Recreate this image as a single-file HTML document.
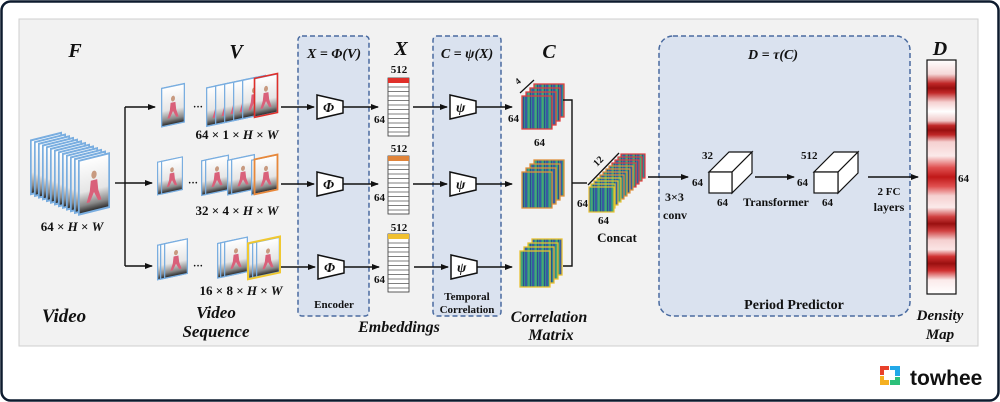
<!DOCTYPE html>
<html><head><meta charset="utf-8"><style>
html,body{margin:0;padding:0;background:#fff;}
svg{display:block;}
text{font-family:"Liberation Serif",serif;font-weight:bold;fill:#111;}
.it{font-style:italic;}
</style></head><body>
<svg width="1000" height="402" viewBox="0 0 1000 402" xmlns="http://www.w3.org/2000/svg">
<defs>
<linearGradient id="fg" x1="0" y1="0" x2="0" y2="1">
<stop offset="0" stop-color="#fff"/><stop offset="0.6" stop-color="#e6e6e6"/><stop offset="0.85" stop-color="#888"/><stop offset="1" stop-color="#222"/></linearGradient>
<symbol id="fr" viewBox="0 0 30 42" preserveAspectRatio="none">
<rect x="0.8" y="0.8" width="28.4" height="40.4" fill="url(#fg)" stroke="#7aaee0" stroke-width="1.6"/>
<ellipse cx="15" cy="14" rx="2.5" ry="3" fill="#c89a80"/>
<path d="M12 18 L18 18 L19 26 L22 34 L19 34 L15 27 L11 34 L8 34 L11 26Z" fill="#d9607a"/>
</symbol>
<pattern id="cm" width="7" height="40" patternUnits="userSpaceOnUse">
<rect width="7" height="40" fill="#2f8f8a"/><rect x="0" width="2" height="40" fill="#3a5aa0"/><rect x="3" width="1.5" height="40" fill="#4aa870"/><rect x="5" width="1" height="40" fill="#2c4f8f"/>
</pattern>
<marker id="ar" markerWidth="8" markerHeight="8" refX="7" refY="4" orient="auto" markerUnits="userSpaceOnUse"><path d="M0 1 L8 4 L0 7Z" fill="#111"/></marker>
<linearGradient id="dm" x1="0" y1="0" x2="0" y2="1">
<stop offset="0" stop-color="#fff"/>
<stop offset="0.06" stop-color="#f5d8d8"/><stop offset="0.10" stop-color="#c02828"/><stop offset="0.12" stop-color="#9a1010"/><stop offset="0.14" stop-color="#c02828"/><stop offset="0.18" stop-color="#f5d0d0"/>
<stop offset="0.22" stop-color="#fff"/>
<stop offset="0.26" stop-color="#f0c8c8"/><stop offset="0.28" stop-color="#c02828"/><stop offset="0.30" stop-color="#9a1010"/><stop offset="0.32" stop-color="#c02828"/><stop offset="0.35" stop-color="#f5d0d0"/>
<stop offset="0.41" stop-color="#fbeaea"/>
<stop offset="0.46" stop-color="#e05050"/><stop offset="0.50" stop-color="#c01818"/><stop offset="0.54" stop-color="#e05050"/><stop offset="0.58" stop-color="#f5d0d0"/>
<stop offset="0.63" stop-color="#fbeaea"/>
<stop offset="0.67" stop-color="#d04040"/><stop offset="0.70" stop-color="#9a1010"/><stop offset="0.73" stop-color="#d04040"/><stop offset="0.77" stop-color="#f5d0d0"/>
<stop offset="0.81" stop-color="#fbe5e5"/>
<stop offset="0.84" stop-color="#d03030"/><stop offset="0.87" stop-color="#9a1010"/><stop offset="0.90" stop-color="#d03030"/><stop offset="0.94" stop-color="#fbeaea"/>
<stop offset="1" stop-color="#fff"/></linearGradient>
</defs>

<rect x="1.5" y="1.5" width="997" height="399" rx="9" fill="#fff" stroke="#0d1b2e" stroke-width="2.5"/>
<rect x="19" y="19" width="959" height="327" fill="#f2f2f2" stroke="#cfcfcf" stroke-width="1"/>

<rect x="298" y="36" width="71" height="280" rx="4" fill="#dae2ef" stroke="#4a6ba0" stroke-width="1.5" stroke-dasharray="5,3"/>
<rect x="433" y="36" width="68" height="280" rx="4" fill="#dae2ef" stroke="#4a6ba0" stroke-width="1.5" stroke-dasharray="5,3"/>
<rect x="659" y="36" width="251" height="280" rx="14" fill="#dae2ef" stroke="#4a6ba0" stroke-width="1.5" stroke-dasharray="5,3"/>

<text x="75" y="57" font-size="20" class="it" text-anchor="middle">F</text>
<text x="236" y="58" font-size="20" class="it" text-anchor="middle">V</text>
<text x="334" y="58" font-size="14" class="it" text-anchor="middle">X = Φ(V)</text>
<text x="401" y="55" font-size="20" class="it" text-anchor="middle">X</text>
<text x="467" y="58" font-size="14" class="it" text-anchor="middle">C = ψ(X)</text>
<text x="549" y="58" font-size="20" class="it" text-anchor="middle">C</text>
<text x="773" y="59" font-size="14" class="it" text-anchor="middle">D = τ(C)</text>
<text x="940" y="55" font-size="20" class="it" text-anchor="middle">D</text>

<!-- video stack -->
<g transform="skewY(-14)">
<use href="#fr" x="30" y="147" width="32" height="56"/>
<use href="#fr" x="34" y="149.7" width="32" height="56"/>
<use href="#fr" x="38" y="152.4" width="32" height="56"/>
<use href="#fr" x="42" y="155.1" width="32" height="56"/>
<use href="#fr" x="46" y="157.8" width="32" height="56"/>
<use href="#fr" x="50" y="160.5" width="32" height="56"/>
<use href="#fr" x="54" y="163.2" width="32" height="56"/>
<use href="#fr" x="58" y="165.9" width="32" height="56"/>
<use href="#fr" x="62" y="168.6" width="32" height="56"/>
<use href="#fr" x="66" y="171.3" width="32" height="56"/>
<use href="#fr" x="70" y="174" width="32" height="56"/>
<use href="#fr" x="74" y="176.7" width="32" height="56"/>
<use href="#fr" x="78" y="179.4" width="32" height="56"/>
</g>
<text x="72" y="231" font-size="13" text-anchor="middle">64 × <tspan class="it">H</tspan> × <tspan class="it">W</tspan></text>
<text x="64" y="322" font-size="19" class="it" text-anchor="middle">Video</text>

<g stroke="#111" stroke-width="1.4" fill="none">
<line x1="115" y1="183" x2="125" y2="183"/>
<line x1="125" y1="107" x2="125" y2="266"/>
<line x1="125" y1="107" x2="155" y2="107" marker-end="url(#ar)"/>
<line x1="125" y1="183" x2="152" y2="183" marker-end="url(#ar)"/>
<line x1="125" y1="266" x2="152" y2="266" marker-end="url(#ar)"/>
</g>

<g transform="skewY(-12)">
<use href="#fr" x="161" y="122" width="24" height="40"/>
<use href="#fr" x="206" y="131" width="24" height="40"/>
<use href="#fr" x="215" y="131" width="24" height="40"/>
<use href="#fr" x="224" y="131" width="24" height="40"/>
<use href="#fr" x="233" y="131" width="24" height="40"/>
<use href="#fr" x="242" y="131" width="24" height="40"/>
<use href="#fr" x="254" y="132" width="24" height="40"/>
<rect x="254.5" y="132.5" width="23" height="39" fill="none" stroke="#e0302a" stroke-width="1.6"/>
</g>
<text x="193" y="110" font-size="10">···</text>
<text x="237" y="139" font-size="13" text-anchor="middle">64 × 1 × <tspan class="it">H</tspan> × <tspan class="it">W</tspan></text>

<g transform="skewY(-12)">
<use href="#fr" x="157" y="195" width="22" height="34"/>
<use href="#fr" x="161" y="195" width="22" height="34"/>
<use href="#fr" x="201" y="203" width="24" height="36"/>
<use href="#fr" x="205" y="203" width="24" height="36"/>
<use href="#fr" x="227" y="208" width="24" height="36"/>
<use href="#fr" x="231" y="208" width="24" height="36"/>
<use href="#fr" x="251" y="213" width="24" height="36"/>
<use href="#fr" x="254" y="213" width="24" height="36"/>
<rect x="254.5" y="213.5" width="23" height="35" fill="none" stroke="#e8883a" stroke-width="1.8"/>
</g>
<text x="188" y="186" font-size="10">···</text>
<text x="237" y="215" font-size="13" text-anchor="middle">32 × 4 × <tspan class="it">H</tspan> × <tspan class="it">W</tspan></text>

<g transform="skewY(-12)">
<use href="#fr" x="157" y="278" width="24" height="36"/>
<use href="#fr" x="160" y="278" width="24" height="36"/>
<use href="#fr" x="164" y="278" width="24" height="36"/>
<use href="#fr" x="217" y="289" width="24" height="36"/>
<use href="#fr" x="220" y="289" width="24" height="36"/>
<use href="#fr" x="224" y="289" width="24" height="36"/>
<use href="#fr" x="248" y="296" width="24" height="36"/>
<use href="#fr" x="252" y="296" width="24" height="36"/>
<use href="#fr" x="256" y="296" width="24" height="36"/>
<rect x="248" y="296" width="32" height="36" fill="none" stroke="#f0c830" stroke-width="2"/>
</g>
<text x="193" y="269" font-size="10">···</text>
<text x="241" y="295" font-size="13" text-anchor="middle">16 × 8 × <tspan class="it">H</tspan> × <tspan class="it">W</tspan></text>
<text x="216" y="318" font-size="17" class="it" text-anchor="middle">Video</text>
<text x="216" y="337" font-size="17" class="it" text-anchor="middle">Sequence</text>

<g stroke="#111" stroke-width="1.4" fill="none">
<line x1="281" y1="107" x2="314" y2="107" marker-end="url(#ar)"/>
<line x1="281" y1="184" x2="314" y2="184" marker-end="url(#ar)"/>
<line x1="281" y1="267" x2="315" y2="267" marker-end="url(#ar)"/>
<line x1="343" y1="107" x2="378" y2="107" marker-end="url(#ar)"/>
<line x1="343" y1="184" x2="378" y2="184" marker-end="url(#ar)"/>
<line x1="344" y1="267" x2="379" y2="267" marker-end="url(#ar)"/>
<line x1="413" y1="107" x2="447" y2="107" marker-end="url(#ar)"/>
<line x1="413" y1="184" x2="447" y2="184" marker-end="url(#ar)"/>
<line x1="414" y1="267" x2="448" y2="267" marker-end="url(#ar)"/>
<line x1="476" y1="107" x2="512" y2="107" marker-end="url(#ar)"/>
<line x1="476" y1="184" x2="512" y2="184" marker-end="url(#ar)"/>
<line x1="477" y1="267" x2="512" y2="267" marker-end="url(#ar)"/>
</g>
<g stroke="#111" stroke-width="1.5" fill="#fff">
<path d="M317 95 L343 101 L343 113 L317 119Z"/>
<path d="M317 172 L343 178 L343 190 L317 196Z"/>
<path d="M318 255 L344 261 L344 273 L318 279Z"/>
<path d="M450 95 L476 101 L476 113 L450 119Z"/>
<path d="M450 172 L476 178 L476 190 L450 196Z"/>
<path d="M451 255 L477 261 L477 273 L451 279Z"/>
</g>
<g font-size="14" class="it">
<text x="323" y="112" class="it">Φ</text><text x="323" y="189" class="it">Φ</text><text x="324" y="272" class="it">Φ</text>
<text x="456" y="112" class="it">ψ</text><text x="456" y="189" class="it">ψ</text><text x="457" y="272" class="it">ψ</text>
</g>

<g stroke="#333" stroke-width="0.8" fill="#fff">
<rect x="388" y="78" width="21" height="58"/>
<rect x="388" y="156" width="21" height="58"/>
<rect x="388" y="234" width="21" height="58"/>
</g>
<rect x="388" y="78" width="21" height="5" fill="#e0302a"/>
<rect x="388" y="156" width="21" height="5" fill="#e0843a"/>
<rect x="388" y="234" width="21" height="5" fill="#f0c030"/>
<g stroke="#555" stroke-width="0.7">
<path d="M388 87h21M388 91.5h21M388 96h21M388 100.5h21M388 105h21M388 109.5h21M388 114h21M388 118.5h21M388 123h21M388 127.5h21M388 132h21"/>
<path d="M388 165h21M388 169.5h21M388 174h21M388 178.5h21M388 183h21M388 187.5h21M388 192h21M388 196.5h21M388 201h21M388 205.5h21M388 210h21"/>
<path d="M388 243h21M388 247.5h21M388 252h21M388 256.5h21M388 261h21M388 265.5h21M388 270h21M388 274.5h21M388 279h21M388 283.5h21M388 288h21"/>
</g>
<g font-size="11">
<text x="399" y="73" text-anchor="middle">512</text><text x="399" y="152" text-anchor="middle">512</text><text x="399" y="231" text-anchor="middle">512</text>
<text x="374" y="123">64</text><text x="374" y="201">64</text><text x="374" y="283">64</text>
</g>
<text x="334" y="308" font-size="11" text-anchor="middle">Encoder</text>
<text x="467" y="300" font-size="11" text-anchor="middle">Temporal</text>
<text x="467" y="313" font-size="11" text-anchor="middle">Correlation</text>
<text x="399" y="332" font-size="16" class="it" text-anchor="middle">Embeddings</text>

<g stroke-width="1.3">
<rect x="534" y="84" width="30" height="33" fill="url(#cm)" stroke="#e04040"/>
<rect x="530" y="88" width="30" height="33" fill="url(#cm)" stroke="#e04040"/>
<rect x="526" y="92" width="30" height="33" fill="url(#cm)" stroke="#e04040"/>
<rect x="522" y="96" width="30" height="33" fill="url(#cm)" stroke="#e04040"/>
<rect x="534" y="160" width="30" height="36" fill="url(#cm)" stroke="#e0903a"/>
<rect x="530" y="164" width="30" height="36" fill="url(#cm)" stroke="#e0903a"/>
<rect x="526" y="168" width="30" height="36" fill="url(#cm)" stroke="#e0903a"/>
<rect x="522" y="172" width="30" height="36" fill="url(#cm)" stroke="#e0903a"/>
<rect x="532" y="239" width="30" height="36" fill="url(#cm)" stroke="#e8c030"/>
<rect x="528" y="243" width="30" height="36" fill="url(#cm)" stroke="#e8c030"/>
<rect x="524" y="247" width="30" height="36" fill="url(#cm)" stroke="#e8c030"/>
<rect x="520" y="251" width="30" height="36" fill="url(#cm)" stroke="#e8c030"/>
</g>
<line x1="520" y1="93" x2="534" y2="80" stroke="#111" stroke-width="1.2"/>
<text x="518" y="85" font-size="9" transform="rotate(-40 518 85)">4</text>
<g font-size="11"><text x="508" y="122">64</text><text x="534" y="146">64</text></g>
<text x="549" y="322" font-size="16" class="it" text-anchor="middle">Correlation</text>
<text x="551" y="340" font-size="16" class="it" text-anchor="middle">Matrix</text>

<g stroke="#111" stroke-width="1.4" fill="none">
<path d="M563 100 L572 100 L572 266 L563 266"/>
<line x1="572" y1="183" x2="587" y2="183"/>
</g>

<g stroke-width="1.2">
<rect x="621" y="154" width="24" height="24" fill="url(#cm)" stroke="#e04040"/>
<rect x="618" y="157" width="24" height="24" fill="url(#cm)" stroke="#e04040"/>
<rect x="615" y="160" width="24" height="24" fill="url(#cm)" stroke="#e04040"/>
<rect x="612" y="163" width="24" height="24" fill="url(#cm)" stroke="#e04040"/>
<rect x="609" y="166" width="24" height="24" fill="url(#cm)" stroke="#e0903a"/>
<rect x="606" y="169" width="24" height="24" fill="url(#cm)" stroke="#e0903a"/>
<rect x="603" y="172" width="24" height="24" fill="url(#cm)" stroke="#e0903a"/>
<rect x="600" y="175" width="24" height="24" fill="url(#cm)" stroke="#e0903a"/>
<rect x="597" y="178" width="24" height="24" fill="url(#cm)" stroke="#e8c030"/>
<rect x="594" y="181" width="24" height="24" fill="url(#cm)" stroke="#e8c030"/>
<rect x="591" y="184" width="24" height="24" fill="url(#cm)" stroke="#e8c030"/>
<rect x="589" y="187" width="25" height="25" fill="url(#cm)" stroke="#e8c030"/>
</g>
<line x1="588" y1="185" x2="619" y2="153" stroke="#111" stroke-width="1.3"/>
<text x="597" y="167" font-size="10" transform="rotate(-45 597 167)">12</text>
<g font-size="11"><text x="577" y="207">64</text><text x="598" y="224">64</text></g>
<text x="617" y="242" font-size="13" text-anchor="middle">Concat</text>

<g stroke="#111" stroke-width="1.4" fill="none">
<line x1="648" y1="177" x2="688" y2="177" marker-end="url(#ar)"/>
<line x1="755" y1="177" x2="794" y2="177" marker-end="url(#ar)"/>
<line x1="868" y1="177" x2="918" y2="177" marker-end="url(#ar)"/>
</g>
<g stroke="#111" stroke-width="1.2" fill="#fff">
<path d="M709 172 L732 172 L752 152 L729 152Z M732 172 L732 193 L752 173 L752 152Z" />
<rect x="709" y="172" width="23" height="21"/>
<path d="M814 172 L838 172 L858 152 L834 152Z M838 172 L838 193 L858 173 L858 152Z" />
<rect x="814" y="172" width="24" height="21"/>
</g>
<g font-size="11">
<text x="702" y="159">32</text><text x="692" y="186">64</text><text x="717" y="206">64</text>
<text x="801" y="159">512</text><text x="797" y="186">64</text><text x="822" y="206">64</text>
</g>
<text x="776" y="206" font-size="12" text-anchor="middle">Transformer</text>
<text x="665" y="201" font-size="12">3×3</text>
<text x="663" y="219" font-size="12">conv</text>
<text x="889" y="195" font-size="11" text-anchor="middle">2 FC</text>
<text x="889" y="211" font-size="12" text-anchor="middle">layers</text>
<text x="794" y="309" font-size="14" text-anchor="middle">Period Predictor</text>

<rect x="927" y="60" width="29" height="234" fill="url(#dm)" stroke="#111" stroke-width="1.2"/>
<text x="958" y="182" font-size="11">64</text>
<text x="940" y="320" font-size="15" class="it" text-anchor="middle">Density</text>
<text x="940" y="339" font-size="15" class="it" text-anchor="middle">Map</text>

<g>
<rect x="880" y="366" width="9" height="9" fill="#e8402a"/>
<rect x="890" y="366" width="10" height="10" fill="#22a8e8"/>
<rect x="880" y="376" width="9" height="9" fill="#f5b021"/>
<rect x="890" y="377" width="10" height="8" fill="#2cc07a"/>
<rect x="884" y="370" width="11" height="10" fill="#fff"/>
<text x="910" y="385" font-size="21" style="font-family:'Liberation Sans',sans-serif;font-weight:bold" fill="#111">towhee</text>
</g>
</svg>
</body></html>
